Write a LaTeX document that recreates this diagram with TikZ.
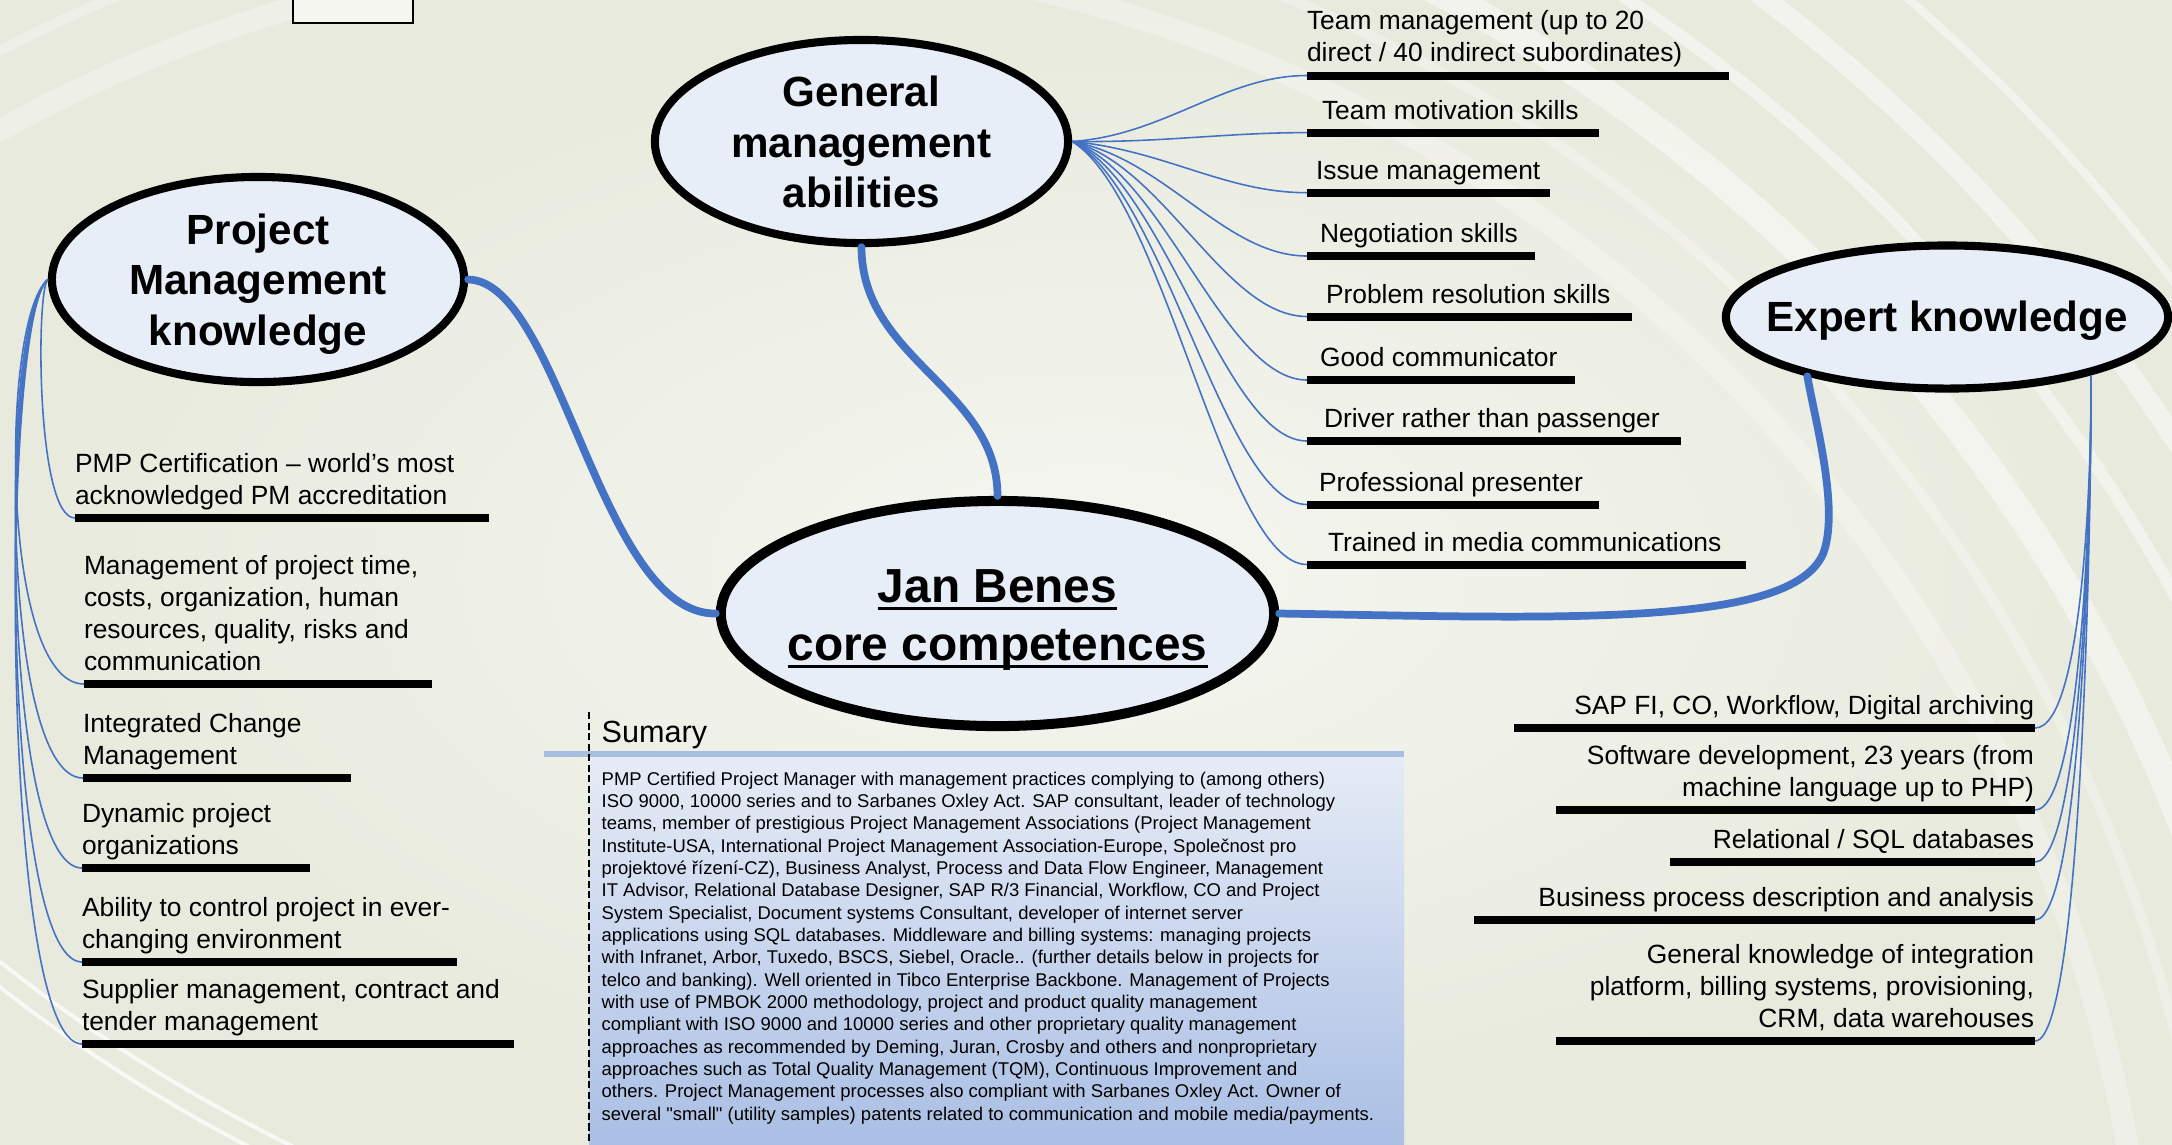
\documentclass[tikz,border=0pt]{standalone}
\usepackage{fontspec}
\setmainfont{Liberation Sans}
\usetikzlibrary{shapes.geometric}

\definecolor{bubblefill}{HTML}{E7EEF8}
\definecolor{linkblue}{HTML}{4472C4}
\definecolor{paperdark}{HTML}{E8EADD}
\definecolor{paperlight}{HTML}{F5F6F0}
\definecolor{sumbar}{HTML}{A8BEE0}
\definecolor{sumtop}{HTML}{E6ECF6}
\definecolor{sumbottom}{HTML}{AABFE4}

\newcommand{\coreline}[1]{\setbox0\hbox{#1}\rlap{\rule[-2.2pt]{\wd0}{0.95pt}}\box0}

\begin{document}
\begin{tikzpicture}[x = 0.01cm, y = -0.01cm]
\tikzstyle{BubbleStyle}=[
shape = ellipse,
draw = black,
line width = 2.3pt,
fill = bubblefill,
inner sep = 0pt]
\tikzstyle{BubbleText}=[
align = center,
inner sep = 0pt,
font = \bfseries\fontsize{12}{14.3}\selectfont]
\tikzstyle{BarStyle}=[
shape = rectangle,
fill = black,
inner sep = 0pt,
outer sep = 0pt,
minimum height = 0.08cm]
\tikzstyle{LeafStyle}=[
inner sep = 0pt,
outer sep = 0pt,
font = \fontsize{7.5}{9.1}\selectfont]
\tikzstyle{BranchStyle}=[draw = linkblue, line width = 2.2pt, line cap = round]
\tikzstyle{TwigStyle}=[draw = linkblue, line width = 0.45pt]
\tikzstyle{SwooshStyle}=[draw = white, opacity = 0.45]
\useasboundingbox (0,0) rectangle (2172,1144);
\clip (0,0) rectangle (2172,1144);
\shade[inner color = paperlight, outer color = paperdark] (0,0) rectangle (2172,1144);
\draw[SwooshStyle, opacity = 0.3, line width = 0.22cm] ([shift={(700,1400)}]-125:1450) arc[start angle = -125, end angle = -5, radius = 1450];
\draw[SwooshStyle, opacity = 0.3, line width = 0.10cm] ([shift={(700,1400)}]-125:1520) arc[start angle = -125, end angle = -5, radius = 1520];
\draw[SwooshStyle, line width = 0.28cm] ([shift={(700,1400)}]-80:1590) arc[start angle = -80, end angle = -5, radius = 1590];
\draw[SwooshStyle, line width = 0.12cm] ([shift={(700,1400)}]-80:1680) arc[start angle = -80, end angle = -5, radius = 1680];
\draw[SwooshStyle, line width = 0.20cm] ([shift={(700,1400)}]-80:1760) arc[start angle = -80, end angle = -5, radius = 1760];
\draw[SwooshStyle, line width = 0.08cm] ([shift={(700,1400)}]-80:1850) arc[start angle = -80, end angle = -5, radius = 1850];
\draw[SwooshStyle, opacity = 0.7, line width = 0.04cm] ([shift={(1000,-300)}]135:1610) arc[start angle = 135, end angle = 108, radius = 1610];
\draw[SwooshStyle, opacity = 0.7, line width = 0.04cm] ([shift={(1000,-300)}]135:1630) arc[start angle = 135, end angle = 108, radius = 1630];
\node[draw = black, line width = 0.6pt, fill = paperlight, minimum width = 1.2cm, minimum height = 0.3cm, inner sep = 0pt] (frame) at (353,8) {};
\shade[top color = sumtop, bottom color = sumbottom] (589,757) rectangle (1404,1144);
\fill[sumbar] (544,751) rectangle (1404,757);
\draw[line width = 0.4pt, dash pattern = on 2pt off 1pt] (589,712) -- (589,1144);
\node[anchor = base west, inner sep = 0pt, font = \fontsize{8.7}{10}\selectfont] (sumhead) at (601,742) {Sumary};
\node[anchor = base west, align = left, inner sep = 0pt, font = \fontsize{5.25}{6.35}\selectfont] (sumbody) at (601,1120) {PMP Certified Project Manager with management practices complying to (among others)\\ISO 9000, 10000 series and to Sarbanes Oxley Act. SAP consultant, leader of technology\\teams, member of prestigious Project Management Associations (Project Management\\Institute-USA, International Project Management Association-Europe, Společnost pro\\projektové řízení-CZ), Business Analyst, Process and Data Flow Engineer, Management\\IT Advisor, Relational Database Designer, SAP R/3 Financial, Workflow, CO and Project\\System Specialist, Document systems Consultant, developer of internet server\\applications using SQL databases. Middleware and billing systems: managing projects\\with Infranet, Arbor, Tuxedo, BSCS, Siebel, Oracle.. (further details below in projects for\\telco and banking). Well oriented in Tibco Enterprise Backbone. Management of Projects\\with use of PMBOK 2000 methodology, project and product quality management\\compliant with ISO 9000 and 10000 series and other proprietary quality management\\approaches as recommended by Deming, Juran, Crosby and others and nonproprietary\\approaches such as Total Quality Management (TQM), Continuous Improvement and\\others. Project Management processes also compliant with Sarbanes Oxley Act. Owner of\\several \textquotedbl small\textquotedbl{} (utility samples) patents related to communication and mobile media/payments.};
\node[BarStyle, anchor = west, minimum width = 4.22cm] (g1) at (1307,75.5) {};
\node[BarStyle, anchor = west, minimum width = 2.92cm] (g2) at (1307,132.6) {};
\node[BarStyle, anchor = west, minimum width = 2.43cm] (g3) at (1307,192.7) {};
\node[BarStyle, anchor = west, minimum width = 2.28cm] (g4) at (1307,256) {};
\node[BarStyle, anchor = west, minimum width = 3.25cm] (g5) at (1307,316.5) {};
\node[BarStyle, anchor = west, minimum width = 2.68cm] (g6) at (1307,380) {};
\node[BarStyle, anchor = west, minimum width = 3.74cm] (g7) at (1307,441) {};
\node[BarStyle, anchor = west, minimum width = 2.92cm] (g8) at (1307,504.5) {};
\node[BarStyle, anchor = west, minimum width = 4.39cm] (g9) at (1307,564.5) {};
\node[LeafStyle, anchor = base west, align = left] (tg1) at (1307,61.5) {Team management (up to 20\\direct / 40 indirect subordinates)};
\node[LeafStyle, anchor = base west] (tg2) at (1322,119) {Team motivation skills};
\node[LeafStyle, anchor = base west] (tg3) at (1316,179) {Issue management};
\node[LeafStyle, anchor = base west] (tg4) at (1320,242.5) {Negotiation skills};
\node[LeafStyle, anchor = base west] (tg5) at (1326,303) {Problem resolution skills};
\node[LeafStyle, anchor = base west] (tg6) at (1320,366.5) {Good communicator};
\node[LeafStyle, anchor = base west] (tg7) at (1324,427.5) {Driver rather than passenger};
\node[LeafStyle, anchor = base west] (tg8) at (1319,491) {Professional presenter};
\node[LeafStyle, anchor = base west] (tg9) at (1328,551) {Trained in media communications};
\node[BarStyle, anchor = west, minimum width = 4.14cm] (p1) at (75,518) {};
\node[BarStyle, anchor = west, minimum width = 3.48cm] (p2) at (84,684) {};
\node[BarStyle, anchor = west, minimum width = 2.68cm] (p3) at (83,778) {};
\node[BarStyle, anchor = west, minimum width = 2.28cm] (p4) at (82,868) {};
\node[BarStyle, anchor = west, minimum width = 3.75cm] (p5) at (82,962) {};
\node[BarStyle, anchor = west, minimum width = 4.32cm] (p6) at (82,1044) {};
\node[LeafStyle, anchor = base west, align = left] (tp1) at (75,504) {PMP Certification – world’s most\\acknowledged PM accreditation};
\node[LeafStyle, anchor = base west, align = left] (tp2) at (84,670) {Management of project time,\\costs, organization, human\\resources, quality, risks and\\communication};
\node[LeafStyle, anchor = base west, align = left] (tp3) at (83,764) {Integrated Change\\Management};
\node[LeafStyle, anchor = base west, align = left] (tp4) at (82,854) {Dynamic project\\organizations};
\node[LeafStyle, anchor = base west, align = left] (tp5) at (82,948) {Ability to control project in ever-\\changing environment};
\node[LeafStyle, anchor = base west, align = left] (tp6) at (82,1030) {Supplier management, contract and\\tender management};
\node[BarStyle, anchor = east, minimum width = 5.21cm] (e1) at (2035,728) {};
\node[BarStyle, anchor = east, minimum width = 4.79cm] (e2) at (2035,810) {};
\node[BarStyle, anchor = east, minimum width = 3.65cm] (e3) at (2035,862) {};
\node[BarStyle, anchor = east, minimum width = 5.61cm] (e4) at (2035,920) {};
\node[BarStyle, anchor = east, minimum width = 4.79cm] (e5) at (2035,1041) {};
\node[LeafStyle, anchor = base east] (te1) at (2034,714) {SAP FI, CO, Workflow, Digital archiving};
\node[LeafStyle, anchor = base east, align = right] (te2) at (2034,796) {Software development, 23 years (from\\machine language up to PHP)};
\node[LeafStyle, anchor = base east] (te3) at (2034,848) {Relational / SQL databases};
\node[LeafStyle, anchor = base east] (te4) at (2034,906) {Business process description and analysis};
\node[LeafStyle, anchor = base east, align = right] (te5) at (2034,1027) {General knowledge of integration\\platform, billing systems, provisioning,\\CRM, data warehouses};
\node[BubbleStyle, minimum width = 4.13cm, minimum height = 2.03cm] (gma) at (861.5,141.5) {};
\node[BubbleStyle, minimum width = 4.12cm, minimum height = 2.05cm] (pmk) at (258,279.5) {};
\node[BubbleStyle, minimum width = 4.42cm, minimum height = 1.43cm] (exk) at (1947,317) {};
\node[BubbleStyle, line width = 2.85pt, minimum width = 5.53cm, minimum height = 2.25cm] (jbc) at (997.5,613.5) {};
\node[BubbleText] (gmatext) at (861.5,142) {General\\management\\abilities};
\node[BubbleText] (pmktext) at (258,284) {Project\\Management\\knowledge};
\node[BubbleText] (exktext) at (1947,321) {Expert knowledge};
\node[BubbleText, font = \bfseries\fontsize{13.6}{16.4}\selectfont] (jbctext) at (997.5,620) {\coreline{Jan Benes}\\\coreline{core competences}};
\draw[BranchStyle] (gma.south) .. controls (861.5,360) and (997.5,388) .. (jbc.north);
\draw[BranchStyle] (pmk.east) .. controls (560,281) and (600,615) .. (jbc.west);
\draw[BranchStyle] (jbc.east) .. controls (1560,618) and (1790,628) .. (1823,554) .. controls (1840,510) and (1815,420) .. (exk.-157);
\draw[TwigStyle] (gma.east) .. controls (1165,135) and (1225,75.5) .. (g1.west);
\draw[TwigStyle] (gma.east) .. controls (1165,142.5) and (1225,132.6) .. (g2.west);
\draw[TwigStyle] (gma.east) .. controls (1165,150.3) and (1225,192.7) .. (g3.west);
\draw[TwigStyle] (gma.east) .. controls (1165,158.6) and (1225,256) .. (g4.west);
\draw[TwigStyle] (gma.east) .. controls (1165,166.4) and (1225,316.5) .. (g5.west);
\draw[TwigStyle] (gma.east) .. controls (1165,174.7) and (1225,380) .. (g6.west);
\draw[TwigStyle] (gma.east) .. controls (1165,182.6) and (1225,441) .. (g7.west);
\draw[TwigStyle] (gma.east) .. controls (1165,190.9) and (1225,504.5) .. (g8.west);
\draw[TwigStyle] (gma.east) .. controls (1165,198.7) and (1225,564.5) .. (g9.west);
\draw[TwigStyle] (pmk.west) .. controls (36,290) and (36,518) .. (p1.west);
\draw[TwigStyle] (pmk.west) .. controls (0,320) and (0,684) .. (p2.west);
\draw[TwigStyle] (pmk.west) .. controls (0,320) and (0,778) .. (p3.west);
\draw[TwigStyle] (pmk.west) .. controls (0,320) and (0,868) .. (p4.west);
\draw[TwigStyle] (pmk.west) .. controls (0,320) and (0,962) .. (p5.west);
\draw[TwigStyle] (pmk.west) .. controls (0,320) and (0,1044) .. (p6.west);
\draw[TwigStyle] (exk.-22) .. controls (2092,450) and (2085,728) .. (e1.east);
\draw[TwigStyle] (exk.-22) .. controls (2092,450) and (2085,810) .. (e2.east);
\draw[TwigStyle] (exk.-22) .. controls (2092,450) and (2085,862) .. (e3.east);
\draw[TwigStyle] (exk.-22) .. controls (2092,450) and (2085,920) .. (e4.east);
\draw[TwigStyle] (exk.-22) .. controls (2092,450) and (2085,1041) .. (e5.east);
\end{tikzpicture}
\end{document}
